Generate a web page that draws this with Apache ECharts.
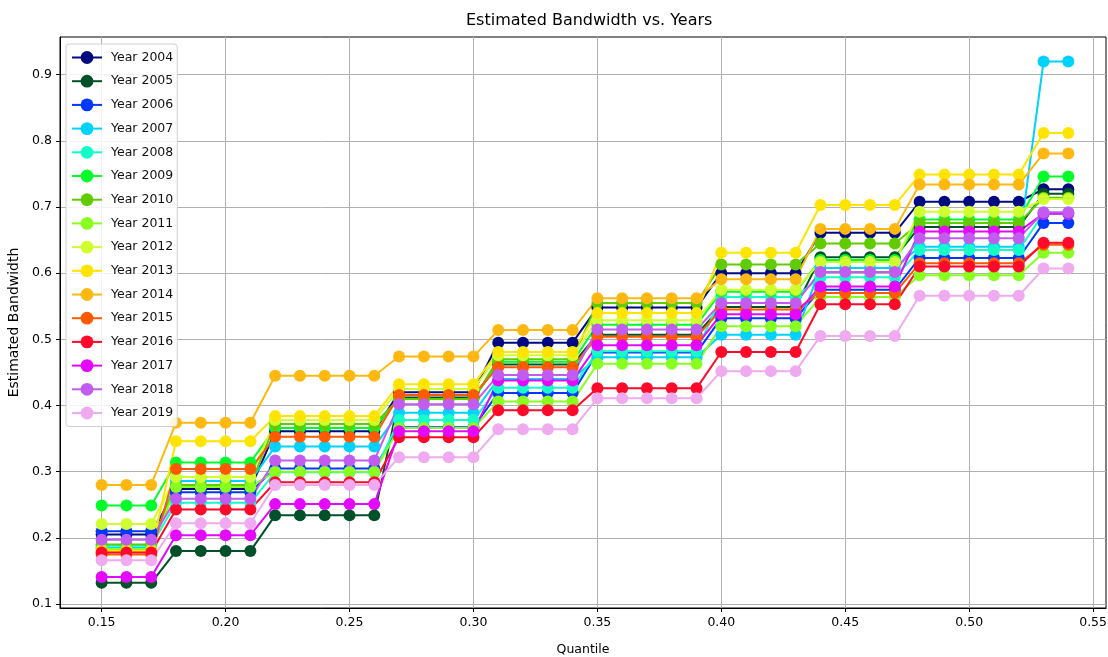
<!DOCTYPE html>
<html>
<head>
<meta charset="utf-8">
<script src="https://cdn.jsdelivr.net/npm/echarts@6/dist/echarts.min.js"></script>
<style>html,body{margin:0;padding:0;background:#fff}#c{width:1108px;height:657px}</style>
</head>
<body>
<div id="c"></div>
<script>
const quantiles = [0.15,0.16,0.17,0.18,0.19,0.20,0.21,0.22,0.23,0.24,0.25,0.26,0.27,0.28,0.29,0.30,0.31,0.32,0.33,0.34,0.35,0.36,0.37,0.38,0.39,0.40,0.41,0.42,0.43,0.44,0.45,0.46,0.47,0.48,0.49,0.50,0.51,0.52,0.53,0.54];
const xTicks = [0.15,0.20,0.25,0.30,0.35,0.40,0.45,0.50,0.55];
const yTicks = [0.1,0.2,0.3,0.4,0.5,0.6,0.7,0.8,0.9];
const years = ['Year 2004','Year 2005','Year 2006','Year 2007','Year 2008','Year 2009','Year 2010','Year 2011','Year 2012','Year 2013','Year 2014','Year 2015','Year 2016','Year 2017','Year 2018','Year 2019'];

const y2004 = [0.205,0.205,0.205,0.274,0.274,0.274,0.274,0.361,0.361,0.361,0.361,0.361,0.420,0.420,0.420,0.420,0.495,0.495,0.495,0.495,0.548,0.548,0.548,0.548,0.548,0.600,0.600,0.600,0.600,0.661,0.661,0.661,0.661,0.708,0.708,0.708,0.708,0.708,0.727,0.727];
const y2005 = [0.132,0.132,0.132,0.180,0.180,0.180,0.180,0.234,0.234,0.234,0.234,0.234,0.412,0.412,0.412,0.412,0.462,0.462,0.462,0.462,0.507,0.507,0.507,0.507,0.507,0.549,0.549,0.549,0.549,0.624,0.624,0.624,0.624,0.670,0.670,0.670,0.670,0.670,0.720,0.720];
const y2006 = [0.210,0.210,0.210,0.269,0.269,0.269,0.269,0.305,0.305,0.305,0.305,0.305,0.367,0.367,0.367,0.367,0.419,0.419,0.419,0.419,0.480,0.480,0.480,0.480,0.480,0.532,0.532,0.532,0.532,0.575,0.575,0.575,0.575,0.623,0.623,0.623,0.623,0.623,0.676,0.676];
const y2007 = [0.185,0.185,0.185,0.286,0.286,0.286,0.286,0.338,0.338,0.338,0.338,0.338,0.389,0.389,0.389,0.389,0.440,0.440,0.440,0.440,0.473,0.473,0.473,0.473,0.473,0.507,0.507,0.507,0.507,0.608,0.608,0.608,0.608,0.640,0.640,0.640,0.640,0.640,0.920,0.920];
const y2008 = [0.188,0.188,0.188,0.253,0.253,0.253,0.253,0.299,0.299,0.299,0.299,0.299,0.378,0.378,0.378,0.378,0.427,0.427,0.427,0.427,0.482,0.482,0.482,0.482,0.482,0.564,0.564,0.564,0.564,0.594,0.594,0.594,0.594,0.635,0.635,0.635,0.635,0.635,0.690,0.690];
const y2009 = [0.249,0.249,0.249,0.314,0.314,0.314,0.314,0.366,0.366,0.366,0.366,0.366,0.410,0.410,0.410,0.410,0.466,0.466,0.466,0.466,0.522,0.522,0.522,0.522,0.522,0.572,0.572,0.572,0.572,0.620,0.620,0.620,0.620,0.681,0.681,0.681,0.681,0.681,0.746,0.746];
const y2010 = [0.190,0.190,0.190,0.280,0.280,0.280,0.280,0.372,0.372,0.372,0.372,0.372,0.410,0.410,0.410,0.410,0.470,0.470,0.470,0.470,0.555,0.555,0.555,0.555,0.555,0.613,0.613,0.613,0.613,0.645,0.645,0.645,0.645,0.676,0.676,0.676,0.676,0.676,0.714,0.714];
const y2011 = [0.183,0.183,0.183,0.277,0.277,0.277,0.277,0.300,0.300,0.300,0.300,0.300,0.366,0.366,0.366,0.366,0.406,0.406,0.406,0.406,0.463,0.463,0.463,0.463,0.463,0.520,0.520,0.520,0.520,0.564,0.564,0.564,0.564,0.597,0.597,0.597,0.597,0.597,0.631,0.631];
const y2012 = [0.221,0.221,0.221,0.292,0.292,0.292,0.292,0.378,0.378,0.378,0.378,0.378,0.425,0.425,0.425,0.425,0.476,0.476,0.476,0.476,0.529,0.529,0.529,0.529,0.529,0.575,0.575,0.575,0.575,0.617,0.617,0.617,0.617,0.693,0.693,0.693,0.693,0.693,0.712,0.712];
const y2013 = [0.180,0.180,0.180,0.346,0.346,0.346,0.346,0.384,0.384,0.384,0.384,0.384,0.432,0.432,0.432,0.432,0.481,0.481,0.481,0.481,0.540,0.540,0.540,0.540,0.540,0.631,0.631,0.631,0.631,0.703,0.703,0.703,0.703,0.749,0.749,0.749,0.749,0.749,0.812,0.812];
const y2014 = [0.280,0.280,0.280,0.374,0.374,0.374,0.374,0.445,0.445,0.445,0.445,0.445,0.474,0.474,0.474,0.474,0.514,0.514,0.514,0.514,0.562,0.562,0.562,0.562,0.562,0.591,0.591,0.591,0.591,0.667,0.667,0.667,0.667,0.734,0.734,0.734,0.734,0.734,0.781,0.781];
const y2015 = [0.175,0.175,0.175,0.304,0.304,0.304,0.304,0.353,0.353,0.353,0.353,0.353,0.416,0.416,0.416,0.416,0.458,0.458,0.458,0.458,0.504,0.504,0.504,0.504,0.504,0.545,0.545,0.545,0.545,0.570,0.570,0.570,0.570,0.615,0.615,0.615,0.615,0.615,0.643,0.643];
const y2016 = [0.178,0.178,0.178,0.243,0.243,0.243,0.243,0.284,0.284,0.284,0.284,0.284,0.352,0.352,0.352,0.352,0.393,0.393,0.393,0.393,0.426,0.426,0.426,0.426,0.426,0.481,0.481,0.481,0.481,0.553,0.553,0.553,0.553,0.610,0.610,0.610,0.610,0.610,0.646,0.646];
const y2017 = [0.141,0.141,0.141,0.204,0.204,0.204,0.204,0.251,0.251,0.251,0.251,0.251,0.361,0.361,0.361,0.361,0.438,0.438,0.438,0.438,0.491,0.491,0.491,0.491,0.491,0.538,0.538,0.538,0.538,0.580,0.580,0.580,0.580,0.663,0.663,0.663,0.663,0.663,0.690,0.690];
const y2018 = [0.197,0.197,0.197,0.259,0.259,0.259,0.259,0.317,0.317,0.317,0.317,0.317,0.402,0.402,0.402,0.402,0.446,0.446,0.446,0.446,0.515,0.515,0.515,0.515,0.515,0.555,0.555,0.555,0.555,0.602,0.602,0.602,0.602,0.653,0.653,0.653,0.653,0.653,0.692,0.692];
const y2019 = [0.166,0.166,0.166,0.222,0.222,0.222,0.222,0.280,0.280,0.280,0.280,0.280,0.322,0.322,0.322,0.322,0.364,0.364,0.364,0.364,0.411,0.411,0.411,0.411,0.411,0.452,0.452,0.452,0.452,0.505,0.505,0.505,0.505,0.566,0.566,0.566,0.566,0.566,0.607,0.607];

const values = [y2004,y2005,y2006,y2007,y2008,y2009,y2010,y2011,y2012,y2013,y2014,y2015,y2016,y2017,y2018,y2019];
const colors = ['#000a80','#00502a','#0038ff','#00d2ff','#14ffc8','#00ff2a','#60cc00','#88ff20','#d0ff30','#ffe400','#ffb810','#ff5a00','#ff0a2a','#e408ff','#c25cf0','#f0aaf0'];

const font = 'DejaVu Sans';
const chart = echarts.init(document.getElementById('c'), null, {renderer: 'canvas'});
chart.setOption({
  animation: false,
  backgroundColor: '#fff',
  title: {
    text: 'Estimated Bandwidth vs. Years',
    left: 461, top: 8,
    textStyle: {fontFamily: font, fontSize: 16, fontWeight: 'normal', color: '#000'}
  },
  legend: {
    orient: 'vertical', left: 66, top: 44,
    data: years,
    itemWidth: 30, itemHeight: 16, itemGap: 10.7,
    padding: [7, 4, 7, 5],
    backgroundColor: 'rgba(255,255,255,0.85)',
    borderColor: '#d0d0d0', borderWidth: 1, borderRadius: 3,
    textStyle: {fontFamily: font, fontSize: 12.5, color: '#111', padding: [0,0,0,4]}
  },
  grid: {left: 60, right: 2, top: 37, bottom: 49, containLabel: false, outerBoundsMode: 'none',
    show: true, borderColor: '#000', borderWidth: 1, backgroundColor: 'transparent'},
  xAxis: {
    type: 'value', min: 0.1332, max: 0.5552,
    name: 'Quantile', nameLocation: 'middle', nameGap: 35,
    nameTextStyle: {fontFamily: font, fontSize: 12.5, color: '#000'},
    axisLine: {show: true, lineStyle: {color: '#000'}},
    axisTick: {show: true, inside: false, length: 4, customValues: xTicks, lineStyle: {color: '#000'}},
    axisLabel: {customValues: xTicks, fontFamily: font, fontSize: 12.5, color: '#000', margin: 8,
      formatter: v => v.toFixed(2)},
    splitLine: {show: true, lineStyle: {color: '#b0b0b0', width: 1}}
  },
  yAxis: {
    type: 'value', min: 0.094, max: 0.957,
    name: 'Estimated Bandwidth', nameLocation: 'middle', nameGap: 35,
    nameTextStyle: {fontFamily: font, fontSize: 14, color: '#000'},
    axisLine: {show: true, lineStyle: {color: '#000'}},
    axisTick: {show: true, inside: false, length: 4, customValues: yTicks, lineStyle: {color: '#000'}},
    axisLabel: {customValues: yTicks, fontFamily: font, fontSize: 12.5, color: '#000', margin: 8,
      formatter: v => v.toFixed(1)},
    splitLine: {show: true, lineStyle: {color: '#b0b0b0', width: 1}}
  },
  series: values.map((arr, i) => ({
    name: years[i],
    type: 'line',
    data: quantiles.map((q, j) => [q, arr[j]]),
    symbol: 'circle', symbolSize: 12,
    showAllSymbol: true,
    lineStyle: {color: colors[i], width: 2},
    itemStyle: {color: colors[i]},
    emphasis: {disabled: true}
  }))
});
</script>
</body>
</html>
